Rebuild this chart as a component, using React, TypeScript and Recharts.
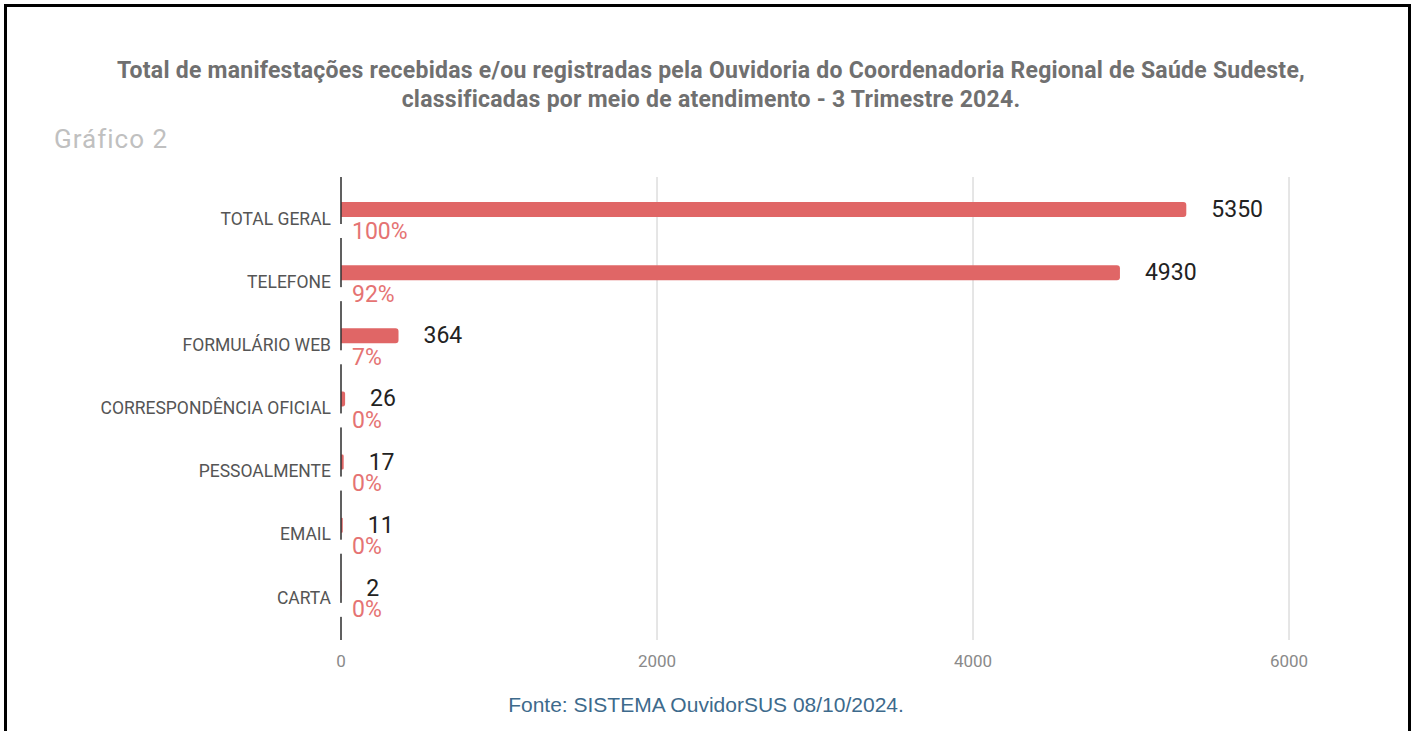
import { Bar, BarChart, CartesianGrid, LabelList, XAxis, YAxis } from "recharts"

const categorias = [
  "TOTAL GERAL",
  "TELEFONE",
  "FORMULÁRIO WEB",
  "CORRESPONDÊNCIA OFICIAL",
  "PESSOALMENTE",
  "EMAIL",
  "CARTA",
]

const totais = [5350, 4930, 364, 26, 17, 11, 2]

const percentuais = [100, 92, 7, 0, 0, 0, 0]

const ticksX = [0, 2000, 4000, 6000]

const data = categorias.map((canal, i) => ({
  canal,
  total: totais[i],
  pct: percentuais[i],
}))

const COR_BARRA = "#e06666"

function ValorLabel(props: any) {
  const { x, y, width, height, value } = props
  return (
    <text
      x={x + width + 25}
      y={y + height / 2}
      dominantBaseline="central"
      fontFamily="Roboto"
      fontSize={23}
      fill="#222"
    >
      {value}
    </text>
  )
}

// percentual fica logo abaixo da barra, encostado no eixo
function PctLabel(props: any) {
  const { x, y, height, value } = props
  const cy = y + height / 2 + 21.5
  return (
    <g>
      <rect x={x - 3} y={cy - 7} width={14} height={14} fill="#fff" />
      <text
        x={x + 11}
        y={cy}
        dominantBaseline="central"
        fontFamily="Roboto"
        fontSize={23}
        fill="#e57373"
      >
        {value + "%"}
      </text>
    </g>
  )
}

const tituloStyle = {
  position: "absolute" as const,
  left: 0,
  width: 1422,
  lineHeight: "24px",
  textAlign: "center" as const,
  fontFamily: "Roboto",
  fontWeight: 700,
  fontSize: 23,
  letterSpacing: 0.25,
  color: "#707070",
  whiteSpace: "nowrap" as const,
}

export default function App() {
  return (
    <div style={{ position: "absolute", left: 0, top: 0, width: 1415, height: 731, background: "#fff", overflow: "hidden" }}>
      <div
        style={{
          position: "absolute",
          left: 4,
          top: 4,
          width: 1401,
          height: 740,
          borderLeft: "3px solid #000",
          borderTop: "3px solid #000",
          borderRight: "3px solid #000",
        }}
      />
      <div style={{ ...tituloStyle, top: 59 }}>
        Total de manifestações recebidas e/ou registradas pela Ouvidoria do Coordenadoria Regional de Saúde Sudeste,
      </div>
      <div style={{ ...tituloStyle, top: 88 }}>
        classificadas por meio de atendimento - 3 Trimestre 2024.
      </div>
      <div style={{ position: "absolute", left: 54, top: 124, lineHeight: "30px", fontFamily: "Roboto", fontSize: 26, letterSpacing: 1, color: "#c0c0c0" }}>
        Gráfico 2
      </div>
      <div style={{ position: "absolute", left: 0, top: 0 }}>
        <BarChart
          width={1415}
          height={731}
          data={data}
          layout="vertical"
          margin={{ top: 177, right: 126, bottom: 61, left: 100 }}
          barGap={4}
        >
          <CartesianGrid horizontal={false} stroke="#cccccc" />
          <XAxis
            type="number"
            domain={[0, 6000]}
            ticks={ticksX}
            axisLine={false}
            tickLine={false}
            tickMargin={9}
            height={30}
            tick={{ fontFamily: "Roboto", fontSize: 17, fill: "#8a8a8a" }}
          />
          <YAxis
            type="category"
            dataKey="canal"
            width={241}
            padding={{ top: 10, bottom: 11 }}
            axisLine={{ stroke: "#333", strokeWidth: 1.5 }}
            tickLine={false}
            tickMargin={4}
            interval={0}
            tick={{ fontFamily: "Roboto", fontSize: 17.5, fill: "#555" }}
          />
          <Bar dataKey="total" fill={COR_BARRA} barSize={15} radius={[0, 3, 3, 0]} isAnimationActive={false}>
            <LabelList dataKey="total" content={ValorLabel} />
            <LabelList dataKey="pct" content={PctLabel} />
          </Bar>
          <Bar dataKey="pct" fill="transparent" barSize={15} isAnimationActive={false} />
        </BarChart>
      </div>
      <div style={{ position: "absolute", left: 0, width: 1412, top: 693, lineHeight: "24px", textAlign: "center", fontFamily: "'Liberation Sans', Arial, sans-serif", fontSize: 21, color: "#3d6a8c" }}>
        Fonte: SISTEMA OuvidorSUS 08/10/2024.
      </div>
    </div>
  )
}
